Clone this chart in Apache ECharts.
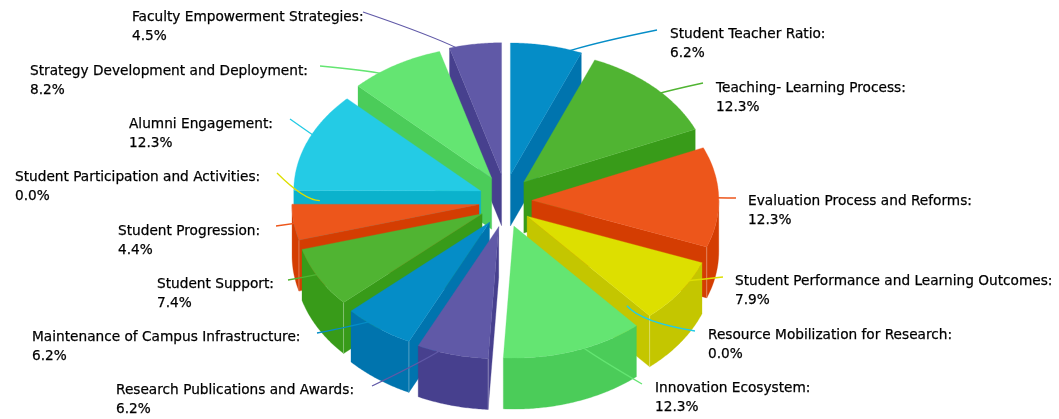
<!DOCTYPE html>
<html>
<head>
<meta charset="utf-8">
<style>
html,body{margin:0;padding:0;background:#fff;}
#main{width:1059px;height:419px;}
</style>
<script src="https://cdn.jsdelivr.net/npm/echarts@6/dist/echarts.min.js"></script>
</head>
<body>
<div id="main"></div>
<script>
// slices, clockwise from 12 o'clock
var categories = ['Student Teacher Ratio','Teaching- Learning Process','Evaluation Process and Reforms',
    'Student Performance and Learning Outcomes','Resource Mobilization for Research','Innovation Ecosystem',
    'Research Publications and Awards','Maintenance of Campus Infrastructure','Student Support','Student Progression',
    'Student Participation and Activities','Alumni Engagement','Strategy Development and Deployment','Faculty Empowerment Strategies'];
var values = [6.2,12.3,12.3,7.9,0.0,12.3,6.2,6.2,7.4,4.4,0.0,12.3,8.2,4.5];
var colors = ['#058DC7','#50B432','#ED561B','#DDDF00','#24CBE5','#64E572','#6059A7'];
var wallColors = ['#0074AE','#389B19','#D43D02','#C4C600','#0BB2CC','#4BCC59','#47408E'];

// layout of the labels: text corner and where the leader line stops
var labelX = [670,716,748,735,708,655,116,32,157,118,15,129,30,132];
var labelY = [25,79,192,272,326,379,381,328,275,222,168,115,62,8];
var lineEndX = [657,703,736,723,695,642,372,317,288,276,277,290,320,363];
var lineEndY = [30,83,198,277,331,384,386,333,280,226,173,119,66,12];

var cx = 505.3, cy = 201, rx = 187, ry = 132, depth = 51, pull = 26.5;
var total = 0;
for (var i=0;i<values.length;i++) total += values[i];

var slices = [];
var sum = 0;
for (var i=0;i<values.length;i++){
    var a0 = sum/total*Math.PI*2;
    sum += values[i];
    var a1 = sum/total*Math.PI*2;
    var mid = (a0+a1)/2;
    slices.push({
        i:i, a0:a0, a1:a1, mid:mid,
        x:cx+pull*Math.sin(mid),
        y:cy-pull*Math.cos(mid)
    });
}
// painter's order, back of the pie first
var order = slices.slice().sort(function(a,b){return Math.cos(b.mid)-Math.cos(a.mid);});

function rim(s,a,dz,k){
    k = k===undefined ? 1 : k;
    return [s.x+rx*k*Math.sin(a), s.y-ry*k*Math.cos(a)+dz];
}
function arcPoints(s,a0,a1,dz){
    var pts = [];
    var n = Math.max(2,Math.ceil((a1-a0)/0.01));
    for (var j=0;j<=n;j++) pts.push(rim(s,a0+(a1-a0)*j/n,dz));
    return pts;
}
function poly(points,color){
    return {type:'polygon',shape:{points:points},style:{fill:color,stroke:color,lineWidth:0.3},silent:true};
}
function seam(s,a){
    var p = rim(s,a,0);
    return {type:'line',shape:{x1:p[0],y1:p[1],x2:p[0],y2:p[1]+depth},style:{stroke:'rgba(255,255,255,0.3)',lineWidth:1},silent:true};
}
function sideWall(s,a,color){
    var p = rim(s,a,0);
    return poly([[s.x,s.y],p,[p[0],p[1]+depth],[s.x,s.y+depth]],color);
}

function renderSlice(params,api){
    var s = order[params.dataIndex];
    var idx = s.i;
    var color = colors[idx%colors.length];
    var wall = wallColors[idx%wallColors.length];
    var children = [];
    if (values[idx]>0){
        // walls facing the viewer
        if (Math.sin(s.a0)<0) children.push(sideWall(s,s.a0,wall));
        if (Math.sin(s.a1)>0) children.push(sideWall(s,s.a1,wall));
        var from = Math.max(s.a0,Math.PI/2);
        var to = Math.min(s.a1,Math.PI*1.5);
        if (to>from){
            var front = arcPoints(s,from,to,0);
            var back = arcPoints(s,from,to,depth).reverse();
            children.push(poly(front.concat(back),wall));
            if (Math.sin(s.a0)<0 && s.a0<Math.PI*1.5) children.push(seam(s,s.a0));
            if (Math.sin(s.a1)>0 && s.a1>Math.PI/2) children.push(seam(s,s.a1));
        }
    }
    // leader line sits over the walls, under the top face
    var st = rim(s,s.mid,0,0.85);
    var ex = lineEndX[idx], ey = lineEndY[idx];
    var len = Math.sqrt((ex-st[0])*(ex-st[0])+(ey-st[1])*(ey-st[1]));
    var ux = Math.sin(s.mid), uy = -Math.cos(s.mid);
    var bend = values[idx]>0 ? 0.1 : 0.3;
    children.push({type:'bezierCurve',shape:{
        x1:st[0],y1:st[1],x2:ex,y2:ey,
        cpx1:st[0]+ux*len*bend,cpy1:st[1]+uy*len*bend
    },style:{stroke:color,fill:null,lineWidth:1.3},silent:true});
    if (values[idx]>0){
        var top = [[s.x,s.y]].concat(arcPoints(s,s.a0,s.a1,0));
        children.push(poly(top,color));
    }
    children.push({type:'text',x:labelX[idx],y:labelY[idx],silent:true,style:{
        text:categories[idx]+':\n'+values[idx].toFixed(1)+'%',
        fontFamily:'DejaVu Sans',fontSize:13.7,lineHeight:18.7,fill:'#000',
        stroke:'#000',lineWidth:0.25,
        textAlign:'left',textVerticalAlign:'top'
    }});
    return {type:'group',children:children};
}

var myChart = echarts.init(document.getElementById('main'));
var option = {
    animation:false,
    tooltip:{show:false},
    series:[{
        type:'custom',
        coordinateSystem:'none',
        silent:true,
        renderItem:renderSlice,
        data:order.map(function(s){return values[s.i];})
    }]
};
myChart.setOption(option);
</script>
</body>
</html>
